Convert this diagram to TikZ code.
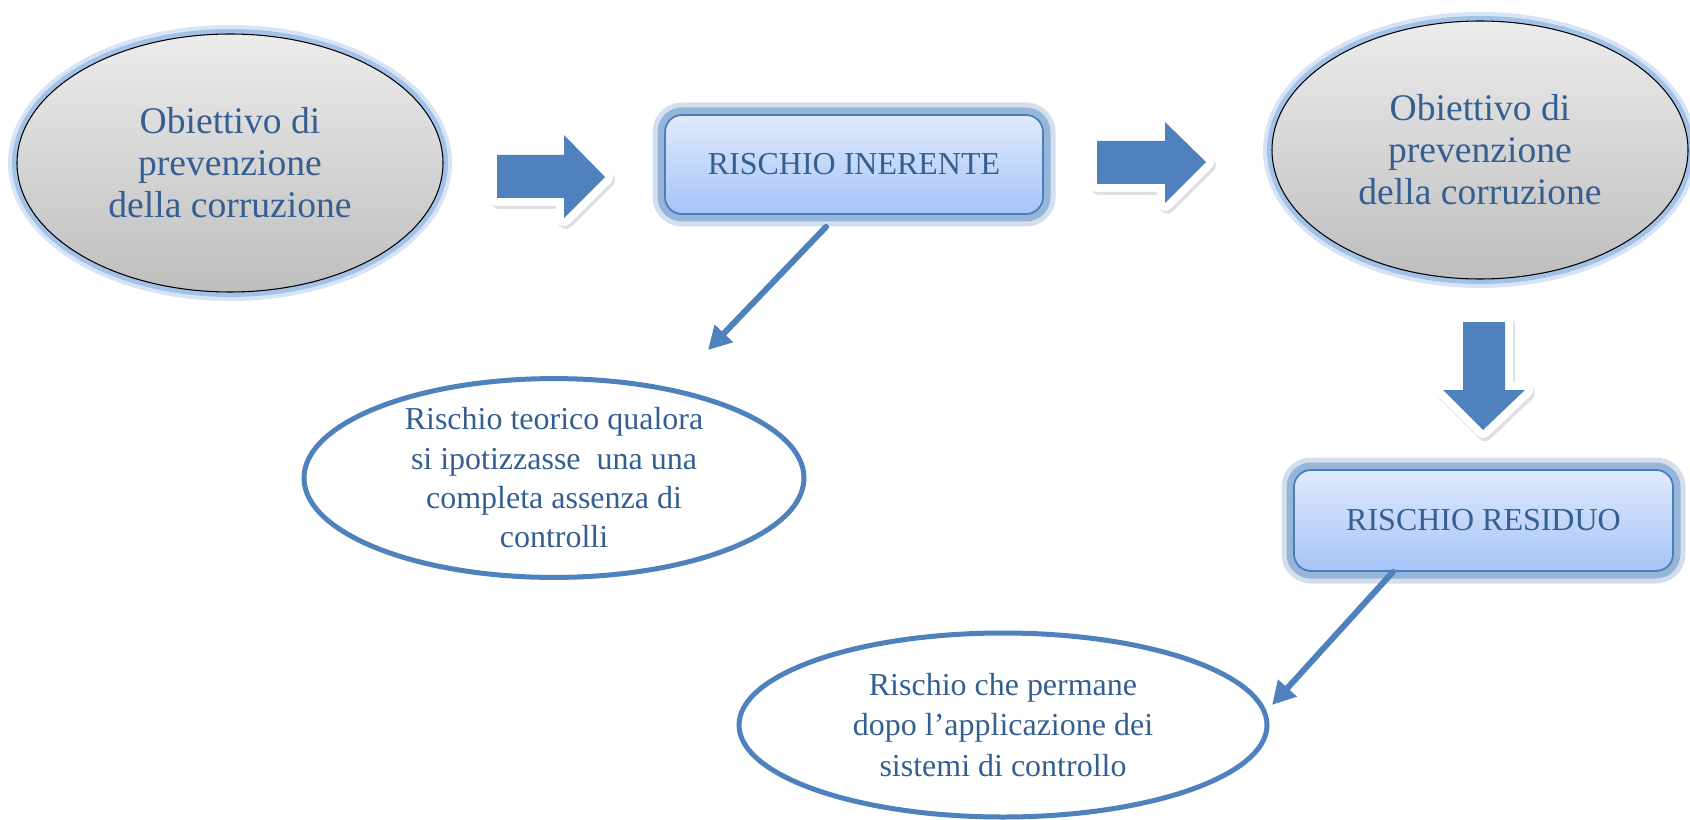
\documentclass[tikz,border=0pt]{standalone}
\usepackage{fontspec}
\setmainfont{Liberation Serif}
\usepackage{tikz}
\usetikzlibrary{calc}
\usetikzlibrary{arrows.meta}
\usetikzlibrary{shapes.geometric}
\definecolor{arrowblue}{RGB}{79,129,189}
\definecolor{textblue}{RGB}{54,95,145}
\definecolor{glowblue}{RGB}{141,179,226}
\definecolor{boxtop}{RGB}{224,234,252}
\definecolor{boxbottom}{RGB}{166,196,248}
\definecolor{boxline}{RGB}{74,126,187}
\definecolor{graytop}{RGB}{236,236,236}
\definecolor{graybottom}{RGB}{190,190,190}
\tikzset{
    obiettivo/.style={ellipse,draw=black,line width=0.6pt,top color=graytop,bottom color=graybottom,text=textblue,align=center,inner sep=0pt,font=\fontsize{21.4}{23.9}\selectfont,
        preaction={draw=glowblue,line width=0.36cm,opacity=0.35},preaction={draw=glowblue,line width=0.2cm,opacity=0.7}},
    riskbox/.style={rectangle,rounded corners=0.34cm,draw=boxline,line width=1pt,top color=boxtop,bottom color=boxbottom,text=textblue,inner sep=0pt,font=\fontsize{18.2}{21.6}\selectfont,
        preaction={draw=arrowblue,line width=0.5cm,opacity=0.25},preaction={draw=arrowblue,line width=0.3cm,opacity=0.45}},
    nota/.style={ellipse,draw=arrowblue,line width=0.1cm,fill=white,text=textblue,align=center,inner sep=0pt},
    pointer/.style={draw=arrowblue,line width=0.12cm,-{Triangle[length=0.46cm,width=0.48cm]}},
    blockarrow/.style={fill=arrowblue,line join=miter,
        preaction={fill=black!12,draw=black!12,line width=0.32cm,transform canvas={shift={(0.04,-0.06)}}},preaction={draw=white,line width=0.32cm}}
}
\begin{document}
\begin{tikzpicture}[line cap=round,line join=round,x=1.0cm,y=1.0cm]
    \useasboundingbox (0,0) rectangle (33.8,-16.4);
    \node[obiettivo,minimum width=8.52cm,minimum height=5.16cm] (obiettivoa) at (4.6,-3.26) {Obiettivo di\\prevenzione\\della corruzione};
    \node[obiettivo,minimum width=8.32cm,minimum height=5.16cm] (obiettivob) at (29.6,-3.0) {Obiettivo di\\prevenzione\\della corruzione};
    \node[riskbox,minimum width=7.56cm,minimum height=1.98cm] (inerente) at (17.08,-3.29) {RISCHIO INERENTE};
    \node[riskbox,minimum width=7.58cm,minimum height=2.02cm] (residuo) at (29.67,-10.41) {RISCHIO RESIDUO};
    \node[nota,minimum width=10cm,minimum height=3.73cm,font=\fontsize{18.2}{22.4}\selectfont] (teorico) at (11.08,-9.56) {Rischio teorico qualora\\si ipotizzasse\ \ una una\\completa assenza di\\controlli};
    \node[nota,minimum width=10.56cm,minimum height=3.68cm,font=\fontsize{18.2}{23.3}\selectfont] (permane) at (20.06,-14.5) {Rischio che permane\\dopo l’applicazione dei\\sistemi di controllo};
    \path[blockarrow] (9.94,-3.10) -- (11.28,-3.10) -- (11.28,-2.70) -- (12.10,-3.54) -- (11.28,-4.36) -- (11.28,-3.96) -- (9.94,-3.96) -- cycle;
    \path[blockarrow] (21.94,-2.82) -- (23.30,-2.82) -- (23.30,-2.44) -- (24.12,-3.24) -- (23.30,-4.06) -- (23.30,-3.68) -- (21.94,-3.68) -- cycle;
    \path[blockarrow] (29.26,-6.44) -- (30.10,-6.44) -- (30.10,-7.80) -- (30.50,-7.80) -- (29.66,-8.60) -- (28.86,-7.80) -- (29.26,-7.80) -- cycle;
    \coordinate (tipteorico) at (14.16,-7.0);
    \coordinate (tippermane) at (25.44,-14.10);
    \draw[pointer] ([xshift=-0.56cm,yshift=-0.24cm]inerente.south) -- (tipteorico);
    \draw[pointer] ([xshift=-1.81cm]residuo.south) -- (tippermane);
\end{tikzpicture}
\end{document}
